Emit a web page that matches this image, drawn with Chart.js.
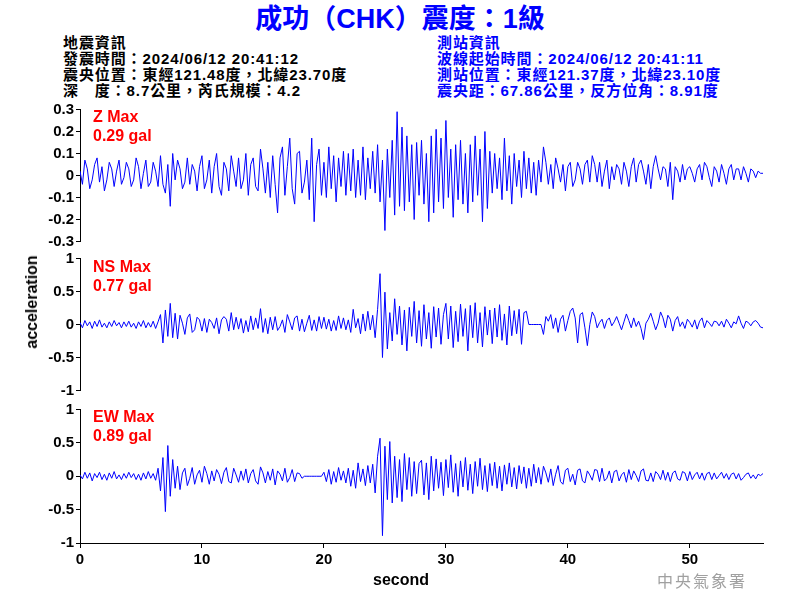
<!DOCTYPE html>
<html><head><meta charset="utf-8">
<script src="https://cdn.jsdelivr.net/npm/chart.js@4.4.1/dist/chart.umd.min.js"></script>
<style>
body{margin:0;width:800px;height:600px;background:#fff;position:relative;overflow:hidden;font-family:"Liberation Sans","Noto Sans CJK TC",sans-serif;}
.box{position:absolute;left:0;width:800px;}
.t{position:absolute;white-space:nowrap;font-weight:bold;z-index:2;}
.info{font-size:15px;line-height:16px;letter-spacing:0.9px;}
.red{color:#ff0000;font-size:16px;line-height:19px;left:93px;}
</style></head><body>
<div class="t" style="left:0;width:800px;text-align:center;top:3px;font-size:27px;line-height:32px;color:#0000ff;">成功（CHK）震度：1級</div>
<div class="t info" style="left:63px;top:35px;color:#000;">地震資訊<br>發震時間：2024/06/12 20:41:12<br>震央位置：東經121.48度，北緯23.70度<br>深　度：8.7公里，芮氏規模：4.2</div>
<div class="t info" style="left:437px;top:35px;color:#0000ff;">測站資訊<br>波線起始時間：2024/06/12 20:41:11<br>測站位置：東經121.37度，北緯23.10度<br>震央距：67.86公里，反方位角：8.91度</div>
<div class="t red" style="top:107px;">Z Max<br>0.29 gal</div>
<div class="t red" style="top:257px;">NS Max<br>0.77 gal</div>
<div class="t red" style="top:407px;">EW Max<br>0.89 gal</div>
<div class="t" style="left:32px;top:302px;font-size:16px;line-height:20px;transform:translate(-50%,-50%) rotate(-90deg);">acceleration</div>
<div class="t" style="left:401px;top:580px;font-size:16px;line-height:20px;transform:translate(-50%,-50%);">second</div>
<div class="t" style="left:657px;top:570px;font-size:16px;line-height:20px;letter-spacing:2px;color:#a0a0a0;font-weight:normal;font-family:'Noto Sans CJK TC',serif;">中央氣象署</div>
<div class="box" style="top:100px;height:151px;"><canvas id="cz"></canvas></div>
<div class="box" style="top:249px;height:151px;"><canvas id="cn"></canvas></div>
<div class="box" style="top:400px;height:200px;"><canvas id="ce"></canvas></div>
<script>
const sampleInterval = 0.2; // seconds between samples
const xTickStep = 10;
const xMax = 56;
const zRange = [-0.3, 0.3], zStep = 0.1;
const hRange = [-1, 1], hStep = 0.5;

const zValues = [
.02,-.04,.07,.03,-.06,-.02,.05,.08,-.03,.04,
-.07,-.02,.06,.03,-.05,.02,.07,-.04,-.01,.06,
.03,-.05,-.02,.08,.04,-.06,.01,.07,-.05,-.03,
.06,.02,-.05,.09,-.04,-.08,.05,-.14,.10,-.02,
.07,.03,-.06,-.03,.08,-.04,.05,.02,-.07,.04,
.09,-.06,-.02,.07,-.08,.04,.10,-.05,-.09,.06,
.03,-.07,.09,.02,-.05,.08,-.06,-.02,.10,-.09,
.05,.08,-.05,-.07,.12,.03,-.08,.06,-.10,.09,
-.04,-.17,.08,.13,-.09,.04,.17,-.06,-.13,.10,
.11,-.08,-.03,.07,-.11,.17,-.21,.05,.12,-.09,
.06,-.10,.13,-.06,.09,-.12,.08,-.05,.11,-.09,
.10,-.07,.12,-.10,.07,-.09,.13,-.11,.08,-.06,
.11,-.08,.14,-.12,.07,-.25,.12,-.10,.16,-.18,
.29,-.14,.22,-.16,.18,-.12,.14,-.20,.15,-.09,
.16,-.13,.10,-.21,.18,-.17,.21,-.12,.17,-.15,
.25,-.10,.12,-.19,.14,-.11,.16,-.13,.10,-.17,
.14,-.12,.18,-.09,.12,-.21,.20,-.15,.11,-.08,
.10,-.06,.08,-.11,.17,-.07,.09,-.13,.10,-.05,
.07,-.10,.11,-.06,.08,-.08,.06,-.09,.07,-.03,
.13,.06,-.04,.05,-.06,.08,.03,-.03,.05,-.07,
.04,.06,-.05,-.02,.06,.03,-.04,.05,.07,-.03,
.09,.05,-.03,.06,-.05,.02,.07,-.06,.04,-.02,
.05,.03,-.04,.06,.02,-.05,.04,.08,-.03,.05,
.07,.02,-.04,.05,-.06,.04,.09,.03,-.02,.04,
.03,-.05,.06,-.11,.04,.02,-.03,.05,-.02,.03,
.04,.01,-.03,.03,.05,-.02,.06,.04,-.01,-.05,
.04,.02,-.03,.05,.01,-.04,.03,.05,-.02,.03,
.03,-.02,.04,.01,-.03,.03,.02,-.01,.02,.01,
.01];

const nsValues = [
.03,-.05,.06,-.02,.04,-.06,.05,-.03,.07,-.04,
.02,-.05,.04,-.03,.06,-.02,.03,-.05,.04,-.03,
.05,-.04,.02,-.06,.04,-.03,.06,-.05,.03,-.04,
.05,-.06,.04,.15,-.28,.22,-.18,.32,-.20,.17,
-.22,.14,.02,-.15,.10,.16,-.12,-.08,.11,.07,
-.10,.09,-.12,.08,.03,-.06,.10,-.14,.07,.12,
.08,-.10,.18,-.08,.11,-.07,.09,-.13,.06,-.11,
.13,-.08,.10,-.06,.24,-.12,.09,-.14,.11,-.08,
.12,-.09,-.03,.07,-.12,.15,.04,-.08,.10,.13,
-.10,.08,-.11,.02,.14,-.09,.07,-.10,.12,-.06,
.11,-.07,.08,-.10,.06,-.09,.13,-.06,.10,-.08,
.07,-.12,.23,-.05,.09,-.14,.16,-.10,.20,-.08,
.14,-.20,.23,.77,-.50,.49,-.37,.18,-.25,.39,
-.15,.28,-.31,.22,-.40,.26,-.18,.35,-.28,.21,
-.33,.30,-.22,.18,-.36,.27,-.19,.25,-.30,.15,
.32,-.22,.28,-.35,.20,-.26,.31,-.18,.24,-.40,
.29,-.20,.33,-.28,.18,-.34,.27,-.16,.22,-.29,
.25,-.19,.30,-.24,.16,-.31,.28,-.17,.21,-.14,
.23,-.30,.18,.20,0,0,0,0,0,0,
-.15,.12,.05,.15,-.06,.10,-.12,.08,.14,-.10,
.06,.20,.25,.10,-.28,.15,.18,-.05,-.32,.00,
.19,.12,-.05,.03,.08,-.06,.06,.10,-.02,.04,
.12,.02,-.08,.04,.16,.06,-.05,.10,-.03,.05,
-.06,-.23,.02,.08,.17,.05,-.08,.02,.19,.10,
-.05,.14,.08,-.10,.06,.12,-.03,.04,-.06,.08,
.03,-.04,.07,-.07,.05,.10,-.05,.06,.02,-.03,
.05,.04,-.02,.05,-.04,.08,.02,-.05,.04,.01,
.13,.02,-.06,.05,.03,-.02,.04,.06,.02,-.04,
-.05];

const ewValues = [
.02,-.04,.06,-.03,.05,-.07,.04,-.02,.06,-.05,
.03,-.06,.05,-.03,.07,-.04,.02,-.05,.04,-.03,
.06,-.02,.04,-.05,.03,-.06,.05,-.04,.07,-.03,
.04,-.06,.12,-.22,.28,-.53,.46,-.30,.25,-.18,
.15,-.20,.05,.12,-.14,-.03,.13,-.12,.02,.09,
-.09,.15,.04,-.12,.08,-.07,.10,.03,-.11,.06,
.13,-.08,-.10,.12,.02,-.09,.08,-.06,.11,-.10,
.04,.10,-.07,-.12,.14,.05,-.10,.07,-.06,.11,
-.13,.08,.03,-.07,.12,-.09,-.02,.10,-.08,.05,
.04,-.03,0,0,0,0,0,0,0,0,
.06,-.08,.10,-.12,.07,-.09,.13,-.06,.08,-.10,
.12,-.15,.09,-.18,.20,-.08,.11,-.14,.16,-.10,
.18,-.25,.30,.57,-.89,.45,-.35,.52,-.40,.30,
-.32,.25,-.38,.34,-.20,.28,-.30,.22,-.26,.19,
.24,-.28,.20,-.35,.30,-.22,.26,-.18,.21,-.29,
.25,-.17,.32,-.24,.19,-.30,.23,-.16,.28,-.21,
.18,-.26,.22,-.15,.27,-.20,.16,-.23,.19,-.14,
.21,-.18,.15,-.22,.17,-.12,.20,-.16,.13,-.19,
.16,-.11,.14,-.18,.12,-.15,.18,-.10,.13,-.12,
.15,.05,-.09,.11,-.14,.03,.16,-.08,-.12,.09,
.12,-.08,.03,-.13,.09,.11,-.07,-.10,.08,.02,
-.06,.10,.09,-.08,.12,-.07,-.03,.08,-.10,.07,
.09,-.07,.02,.06,-.09,.10,-.05,.08,.01,-.08,
.08,.11,-.06,-.07,.05,-.08,.07,.03,-.05,.09,
-.06,.06,-.08,.05,.08,-.04,-.06,.07,.05,-.07,
.07,-.05,.02,.06,-.04,.05,-.06,.04,.06,-.05,
.05,-.04,.01,.06,-.03,.04,-.05,.03,.05,-.04,
.04,-.06,-.02,.03,.05,-.03,.02,-.04,.03,.01,
.04];

const tickFont = {family:"'Liberation Sans', Arial, sans-serif", size:15, weight:'bold', lineHeight:1};
const fmt = v => String(Math.round(v * 100) / 100);

function toPoints(vals){ return vals.map((v,i)=>({x:i*sampleInterval, y:v})); }

function makeChart(id, vals, range, step, showX){
  const xScale = {
    type:'linear', min:0, max:xMax, display: showX,
    afterBuildTicks: s => { s.ticks = s.ticks.filter(t => Math.abs(t.value % xTickStep) < 1e-9); },
    border:{display:true,color:'#000',width:1},
    grid:{display:true,drawOnChartArea:false,drawTicks:true,tickLength:5,color:'#000'},
    ticks:{stepSize:xTickStep,color:'#000',font:tickFont,padding:4,maxRotation:0,autoSkip:false}
  };
  if (showX) xScale.afterFit = s => { s.height = 40; };
  return new Chart(document.getElementById(id), {
    type:'line',
    data:{datasets:[{data:toPoints(vals),borderColor:'#0000ff',borderWidth:1,pointRadius:0,fill:false,tension:0}]},
    options:{
      responsive:true, maintainAspectRatio:false, animation:false,
      layout:{padding:{left:0,right:37,top:8,bottom: showX ? 17 : 8}},
      plugins:{legend:{display:false},tooltip:{enabled:false}},
      scales:{
        x: xScale,
        y:{type:'linear',min:range[0],max:range[1],
           afterFit: s => { s.width = 80; },
           border:{display:true,color:'#000',width:1},
           grid:{display:true,drawOnChartArea:false,drawTicks:true,tickLength:4,color:'#000'},
           ticks:{stepSize:step,color:'#000',font:tickFont,padding:2,autoSkip:false,callback:fmt}}
      }
    }
  });
}
makeChart('cz', zValues, zRange, zStep, false);
makeChart('cn', nsValues, hRange, hStep, false);
makeChart('ce', ewValues, hRange, hStep, true);
</script>
</body></html>
